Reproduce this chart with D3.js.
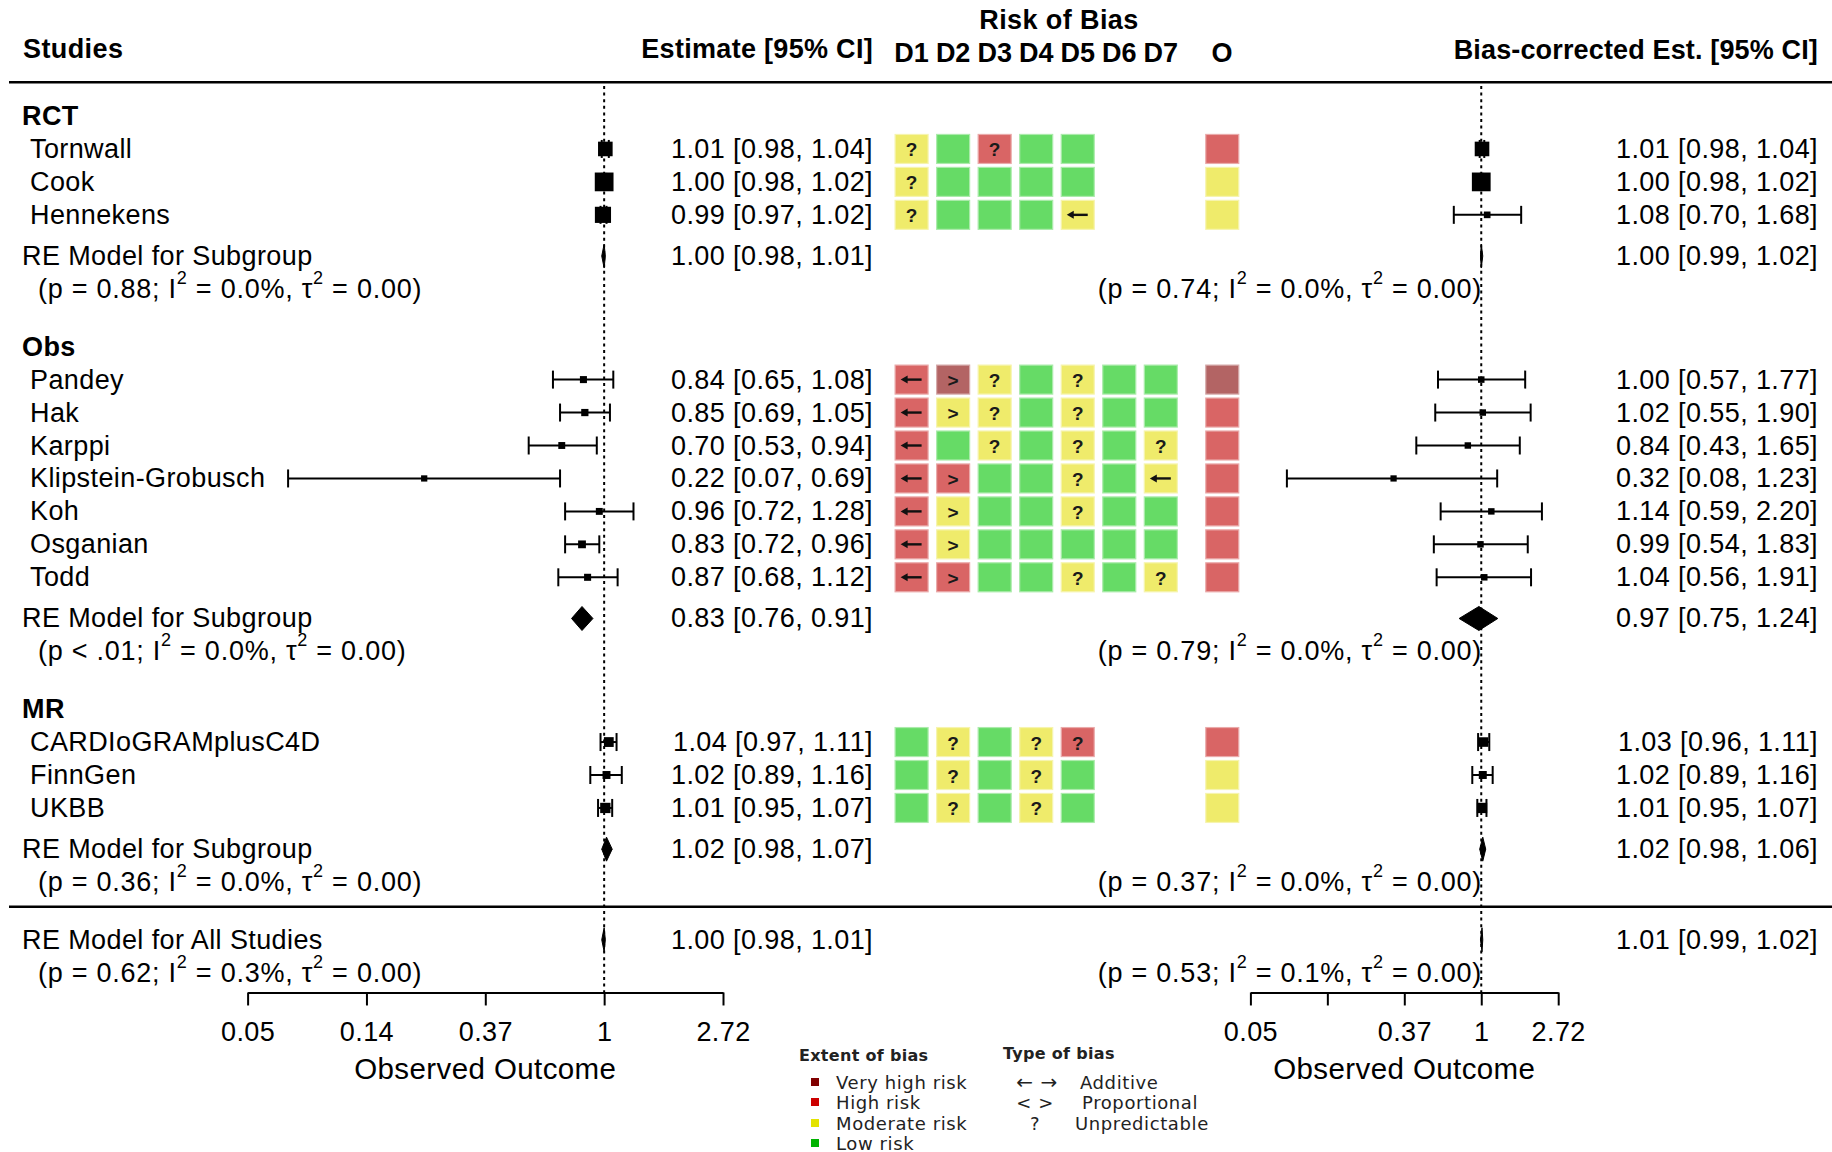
<!DOCTYPE html>
<html>
<head>
<meta charset="utf-8">
<script src="https://cdn.jsdelivr.net/npm/d3@7"></script>
<style>
  body { margin: 0; background: #fff; }
  svg text { font-family: "Liberation Sans", Arial, sans-serif; fill: #000; }
</style>
</head>
<body>
<svg id="forest" width="1832" height="1152"></svg>
<script>
// ---- data ----
var groupNames = ["RCT", "Obs", "MR"];
var studyNames = ["Tornwall", "Cook", "Hennekens", "Pandey", "Hak", "Karppi", "Klipstein-Grobusch",
                  "Koh", "Osganian", "Todd", "CARDIoGRAMplusC4D", "FinnGen", "UKBB"];
var studyGroup = [0, 0, 0, 1, 1, 1, 1, 1, 1, 1, 2, 2, 2];

// observed estimates [95% CI]
var estObs  = [1.01, 1.00, 0.99, 0.84, 0.85, 0.70, 0.22, 0.96, 0.83, 0.87, 1.04, 1.02, 1.01];
var lowObs  = [0.98, 0.98, 0.97, 0.65, 0.69, 0.53, 0.07, 0.72, 0.72, 0.68, 0.97, 0.89, 0.95];
var highObs = [1.04, 1.02, 1.02, 1.08, 1.05, 0.94, 0.69, 1.28, 0.96, 1.12, 1.11, 1.16, 1.07];

// bias-corrected estimates [95% CI]
var estAdj  = [1.01, 1.00, 1.08, 1.00, 1.02, 0.84, 0.32, 1.14, 0.99, 1.04, 1.03, 1.02, 1.01];
var lowAdj  = [0.98, 0.98, 0.70, 0.57, 0.55, 0.43, 0.08, 0.59, 0.54, 0.56, 0.96, 0.89, 0.95];
var highAdj = [1.04, 1.02, 1.68, 1.77, 1.90, 1.65, 1.23, 2.20, 1.83, 1.91, 1.11, 1.16, 1.07];

// risk of bias: first letter = extent (L low, M moderate, H high, V very high), rest = type of bias
var domainNames = ["D1", "D2", "D3", "D4", "D5", "D6", "D7"];
var robDomains = [
  ["M?", "L",  "H?", "L",  "L",  "",  ""],
  ["M?", "L",  "L",  "L",  "L",  "",  ""],
  ["M?", "L",  "L",  "L",  "M←", "",  ""],
  ["H←", "V>", "M?", "L",  "M?", "L", "L"],
  ["H←", "M>", "M?", "L",  "M?", "L", "L"],
  ["H←", "L",  "M?", "L",  "M?", "L", "M?"],
  ["H←", "H>", "L",  "L",  "M?", "L", "M←"],
  ["H←", "M>", "L",  "L",  "M?", "L", "L"],
  ["H←", "M>", "L",  "L",  "L",  "L", "L"],
  ["H←", "H>", "L",  "L",  "M?", "L", "M?"],
  ["L",  "M?", "L",  "M?", "H?", "",  ""],
  ["L",  "M?", "L",  "M?", "L",  "",  ""],
  ["L",  "M?", "L",  "M?", "L",  "",  ""]
];
var robOverall = ["H", "M", "M", "V", "H", "H", "H", "H", "H", "H", "H", "M", "M"];

// subgroup random-effects models
var subEstObs  = [1.00, 0.83, 1.02], subLowObs = [0.98, 0.76, 0.98], subHighObs = [1.01, 0.91, 1.07];
var subEstAdj  = [1.00, 0.97, 1.02], subLowAdj = [0.99, 0.75, 0.98], subHighAdj = [1.02, 1.24, 1.06];
var subPObs = ["= 0.88", "< .01", "= 0.36"], subI2Obs = ["0.0", "0.0", "0.0"], subTauObs = ["0.00", "0.00", "0.00"];
var subPAdj = ["= 0.74", "= 0.79", "= 0.37"], subI2Adj = ["0.0", "0.0", "0.0"], subTauAdj = ["0.00", "0.00", "0.00"];

// overall model [est, low, high] and [p, I2, tau2]
var allObs = [1.00, 0.98, 1.01], allStatsObs = ["= 0.62", "0.3", "0.00"];
var allAdj = [1.01, 0.99, 1.02], allStatsAdj = ["= 0.53", "0.1", "0.00"];

// axes
var tickLogs = [-3, -2, -1, 0, 1];
var tickLabelsL = ["0.05", "0.14", "0.37", "1", "2.72"];
var tickLabelsR = ["0.05", "", "0.37", "1", "2.72"];

// legend
var extentLabels = ["Very high risk", "High risk", "Moderate risk", "Low risk"];
var extentKeys = ["V", "H", "M", "L"];
var typeSymbols = ["←  →", "<   >", "?"];
var typeLabels = ["Additive", "Proportional", "Unpredictable"];

// ---- layout ----
var svg = d3.select("#forest");
var FS = 27;
var fmt = d3.format(".2f");

var boxFill = { L: "#66db66", M: "#efeb6b", H: "#d96565", V: "#b36464" };
var legendFill = { V: "#800000", H: "#cc0000", M: "#e3e300", L: "#00b300" };

var xL = d3.scaleLog().base(Math.E).domain([Math.exp(-3), Math.exp(1)]).range([247.6, 723]);
var xR = d3.scaleLog().base(Math.E).domain([Math.exp(-3), Math.exp(1)]).range([1250.4, 1558.2]);
var yRow = d3.scaleLinear().domain([0, 26]).range([116, 116 + 26 * 32.95]);
var robX = d3.scaleLinear().domain([0, 6]).range([911.6, 1160.8]);
var robXO = robX(7.48);
var axisY = yRow(26.6);

// row positions for every element
var studyRow = [], headRow = [], subRow = [], statRow = [];
var r = 0;
groupNames.forEach(function(g, gi) {
  headRow[gi] = r;
  studyNames.forEach(function(s, i) {
    if (studyGroup[i] === gi) { r++; studyRow[i] = r; }
  });
  subRow[gi] = r + 1.25;
  statRow[gi] = r + 2.25;
  r = r + 4;
});
var lineRow = statRow[2] + 0.75;   // separator before the overall model
var allRow = lineRow + 1, allStatRow = lineRow + 2;

function txt(x, y, s, opts) {
  opts = opts || {};
  return svg.append("text")
    .attr("x", x).attr("y", y)
    .attr("dominant-baseline", "central")
    .attr("text-anchor", opts.anchor || "start")
    .attr("font-size", opts.size || FS)
    .attr("font-weight", opts.bold ? "bold" : null)
    .attr("letter-spacing", opts.ls != null ? opts.ls : 0.4)
    .text(s);
}

function ciText(e, l, h) { return fmt(e) + " [" + fmt(l) + ", " + fmt(h) + "]"; }

function statsText(x, y, anchor, p, i2, tau) {
  var t = txt(x, y, "", { anchor: anchor, ls: 0.75 });
  t.append("tspan").text("(p " + p + "; I");
  t.append("tspan").attr("dy", -11).attr("font-size", 18).text("2");
  t.append("tspan").attr("dy", 11).text(" = " + i2 + "%, τ");
  t.append("tspan").attr("dy", -11).attr("font-size", 18).text("2");
  t.append("tspan").attr("dy", 11).text(" = " + tau + ")");
}

// ---- header ----
txt(23, 49, "Studies", { bold: true });
txt(873, 49, "Estimate [95% CI]", { bold: true, anchor: "end", ls: 0.3 });
txt(1059, 20, "Risk of Bias", { bold: true, anchor: "middle" });
domainNames.forEach(function(d, i) { txt(robX(i), 53, d, { bold: true, anchor: "middle", ls: 0 }); });
txt(robXO, 53, "O", { bold: true, anchor: "middle" });
txt(1818, 50, "Bias-corrected Est. [95% CI]", { bold: true, anchor: "end", ls: 0.15 });

svg.append("line").attr("x1", 9).attr("x2", 1832).attr("y1", 82.3).attr("y2", 82.3)
  .attr("stroke", "#000").attr("stroke-width", 2.5);
svg.append("line").attr("x1", 9).attr("x2", 1832).attr("y1", yRow(lineRow)).attr("y2", yRow(lineRow))
  .attr("stroke", "#000").attr("stroke-width", 2.5);

// reference lines at 1
[xL, xR].forEach(function(x) {
  svg.append("line").attr("x1", x(1)).attr("x2", x(1)).attr("y1", 86).attr("y2", axisY)
    .attr("stroke", "#000").attr("stroke-width", 2).attr("stroke-dasharray", "3,3.6");
});

// ---- labels ----
groupNames.forEach(function(g, gi) {
  txt(22, yRow(headRow[gi]), g, { bold: true });
  txt(22, yRow(subRow[gi]), "RE Model for Subgroup");
  statsText(38, yRow(statRow[gi]), "start", subPObs[gi], subI2Obs[gi], subTauObs[gi]);
  statsText(1482, yRow(statRow[gi]), "end", subPAdj[gi], subI2Adj[gi], subTauAdj[gi]);
  txt(873, yRow(subRow[gi]), ciText(subEstObs[gi], subLowObs[gi], subHighObs[gi]), { anchor: "end" });
  txt(1818, yRow(subRow[gi]), ciText(subEstAdj[gi], subLowAdj[gi], subHighAdj[gi]), { anchor: "end" });
});
txt(22, yRow(allRow), "RE Model for All Studies");
statsText(38, yRow(allStatRow), "start", allStatsObs[0], allStatsObs[1], allStatsObs[2]);
statsText(1482, yRow(allStatRow), "end", allStatsAdj[0], allStatsAdj[1], allStatsAdj[2]);
txt(873, yRow(allRow), ciText(allObs[0], allObs[1], allObs[2]), { anchor: "end" });
txt(1818, yRow(allRow), ciText(allAdj[0], allAdj[1], allAdj[2]), { anchor: "end" });

studyNames.forEach(function(s, i) {
  txt(30, yRow(studyRow[i]), s);
  txt(873, yRow(studyRow[i]), ciText(estObs[i], lowObs[i], highObs[i]), { anchor: "end" });
  txt(1818, yRow(studyRow[i]), ciText(estAdj[i], lowAdj[i], highAdj[i]), { anchor: "end" });
});

// ---- forest marks ----
// point size follows 1/se, rescaled to 0.5..1.5 like metafor
function pointSizes(low, high) {
  var w = low.map(function(l, i) { return 3.92 / (Math.log(high[i]) - Math.log(l)); });
  var mn = d3.min(w), mx = d3.max(w);
  return w.map(function(v) { return 12.5 * (0.5 + (v - mn) / (mx - mn)); });
}

function drawForest(x, est, low, high) {
  var size = pointSizes(low, high);
  var g = svg.append("g");
  est.forEach(function(e, i) {
    var y = yRow(studyRow[i]);
    g.append("line").attr("x1", x(low[i])).attr("x2", x(high[i])).attr("y1", y).attr("y2", y)
      .attr("stroke", "#000").attr("stroke-width", 2);
    [low[i], high[i]].forEach(function(v) {
      g.append("line").attr("x1", x(v)).attr("x2", x(v)).attr("y1", y - 9).attr("y2", y + 9)
        .attr("stroke", "#000").attr("stroke-width", 2);
    });
    g.append("rect").attr("x", x(e) - size[i] / 2).attr("y", y - size[i] / 2)
      .attr("width", size[i]).attr("height", size[i]).attr("fill", "#000");
  });
}
drawForest(xL, estObs, lowObs, highObs);
drawForest(xR, estAdj, lowAdj, highAdj);

function diamond(x, y, e, l, h) {
  svg.append("polygon")
    .attr("points", [[x(l), y], [x(e), y - 12], [x(h), y], [x(e), y + 12]].map(function(p) { return p.join(","); }).join(" "))
    .attr("fill", "#000").attr("stroke", "#000").attr("stroke-width", 1);
}
groupNames.forEach(function(g, gi) {
  diamond(xL, yRow(subRow[gi]), subEstObs[gi], subLowObs[gi], subHighObs[gi]);
  diamond(xR, yRow(subRow[gi]), subEstAdj[gi], subLowAdj[gi], subHighAdj[gi]);
});
diamond(xL, yRow(allRow), allObs[0], allObs[1], allObs[2]);
diamond(xR, yRow(allRow), allAdj[0], allAdj[1], allAdj[2]);

// ---- risk of bias boxes ----
var BW = 33, BH = 29;
function robBox(cx, cy, code) {
  if (!code) return;
  var fill = boxFill[code[0]], sign = code.slice(1);
  svg.append("rect").attr("x", cx - BW / 2).attr("y", cy - BH / 2).attr("width", BW).attr("height", BH)
    .attr("fill", fill).attr("stroke", d3.interpolateRgb(fill, "#fff")(0.45)).attr("stroke-width", 1.2);
  if (sign === "←") {
    svg.append("path").attr("d", "M" + (cx + 10) + "," + cy + "H" + (cx - 6))
      .attr("stroke", "#111").attr("stroke-width", 2.4);
    svg.append("path").attr("d", "M" + (cx - 11) + "," + cy + "L" + (cx - 4) + "," + (cy - 4) + "L" + (cx - 4) + "," + (cy + 4) + "Z")
      .attr("fill", "#111");
  } else if (sign) {
    txt(cx, cy + 1, sign, { anchor: "middle", size: 19, bold: true, ls: 0 }).style("fill", "#1a1a1a");
  }
}
studyNames.forEach(function(s, i) {
  var y = yRow(studyRow[i]);
  robDomains[i].forEach(function(code, j) { robBox(robX(j), y, code); });
  robBox(robXO, y, robOverall[i]);
});

// ---- axes ----
function drawAxis(x, labels) {
  var ax = d3.axisBottom(x)
    .tickValues(tickLogs.map(Math.exp))
    .tickFormat(function(d, i) { return labels[i]; })
    .tickSize(13).tickSizeOuter(0);
  var g = svg.append("g").attr("transform", "translate(0," + axisY + ")").call(ax)
    .attr("font-size", null).attr("font-family", null);
  g.select(".domain").attr("stroke-width", 2);
  g.selectAll(".tick line").attr("stroke-width", 2);
  g.selectAll(".tick text").attr("y", 40).attr("dy", null).attr("dominant-baseline", "central")
    .attr("font-size", FS).attr("letter-spacing", 0.4).attr("fill", "#000");
  var r = x.range();
  txt((r[0] + r[1]) / 2, 1068, "Observed Outcome", { anchor: "middle", size: 29.5 });
}
drawAxis(xL, tickLabelsL);
drawAxis(xR, tickLabelsR);

// ---- legend ----
var lg = svg.append("g");
function ltxt(x, y, s, bold, anchor) {
  return lg.append("text").attr("x", x).attr("y", y).attr("dominant-baseline", "central")
    .attr("text-anchor", anchor || "start")
    .attr("font-size", bold ? 16 : 18).attr("font-weight", bold ? "bold" : null)
    .attr("letter-spacing", bold ? 0.3 : 0.6)
    .style("font-family", "'DejaVu Sans', sans-serif").style("fill", "#222").text(s);
}
var legY = [1082, 1102, 1123, 1143];
ltxt(799, 1055, "Extent of bias", true);
extentLabels.forEach(function(l, i) {
  lg.append("rect").attr("x", 811).attr("y", legY[i] - 4).attr("width", 8).attr("height", 8)
    .attr("fill", legendFill[extentKeys[i]]);
  ltxt(836, legY[i], l);
});
ltxt(1003, 1053, "Type of bias", true);
var typeX = [1037, 1035, 1035], labelX = [1080, 1082, 1075];
typeSymbols.forEach(function(s, i) {
  ltxt(typeX[i], legY[i], s, false, "middle").attr("font-size", i === 0 ? 20 : 18);
  ltxt(labelX[i], legY[i], typeLabels[i]);
});
</script>
</body>
</html>
